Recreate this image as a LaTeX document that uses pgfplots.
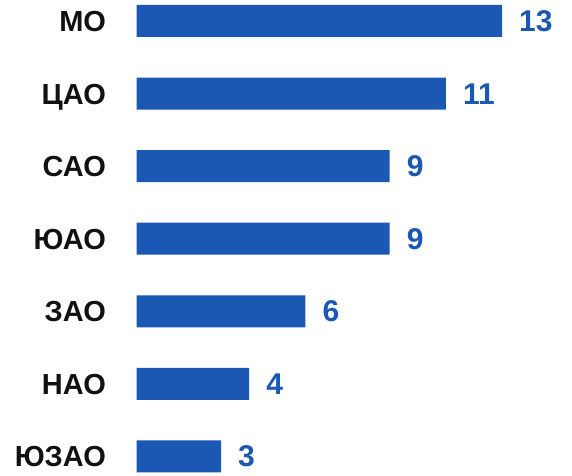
\documentclass[border=0pt]{standalone}
\usepackage{pgfplots}
\pgfplotsset{compat=1.18}
\usepackage{fontspec}
\setmainfont{Liberation Sans}
\definecolor{barblue}{RGB}{26,88,179}
\definecolor{labblack}{RGB}{17,17,17}
\begin{document}
\begin{tikzpicture}
\path[use as bounding box] (0,0) rectangle (572pt,475pt);
\begin{axis}[
  at={(136.7pt,0pt)}, anchor=south west,
  scale only axis, width=365.3pt, height=475pt,
  xmin=0, xmax=13, ymin=-0.255, ymax=6.289,
  xbar, bar width=32pt,
  axis line style={draw=none},
  xtick=\empty,
  ytick={0,1,2,3,4,5,6},
  yticklabels={ЮЗАО,НАО,ЗАО,ЮАО,САО,ЦАО,МО},
  major tick length=0pt,
  /pgf/number format/assume math mode=true,
  yticklabel style={font=\fontsize{29}{35}\selectfont\bfseries, color=labblack, inner sep=0pt,
    text height=21pt, text depth=0pt, xshift=-30.5pt, anchor=east},
  nodes near coords={\pgfmathprintnumber[assume math mode=true]{\pgfplotspointmeta}},
  nodes near coords style={font=\fontsize{30}{36}\selectfont\bfseries, color=barblue, anchor=west,
    inner sep=0pt, xshift=17pt, text height=21pt, text depth=0pt},
  clip=false]
\addplot[fill=barblue, draw=none] coordinates {(3,0) (4,1) (6,2) (9,3) (9,4) (11,5) (13,6)};
\end{axis}
\end{tikzpicture}
\end{document}
